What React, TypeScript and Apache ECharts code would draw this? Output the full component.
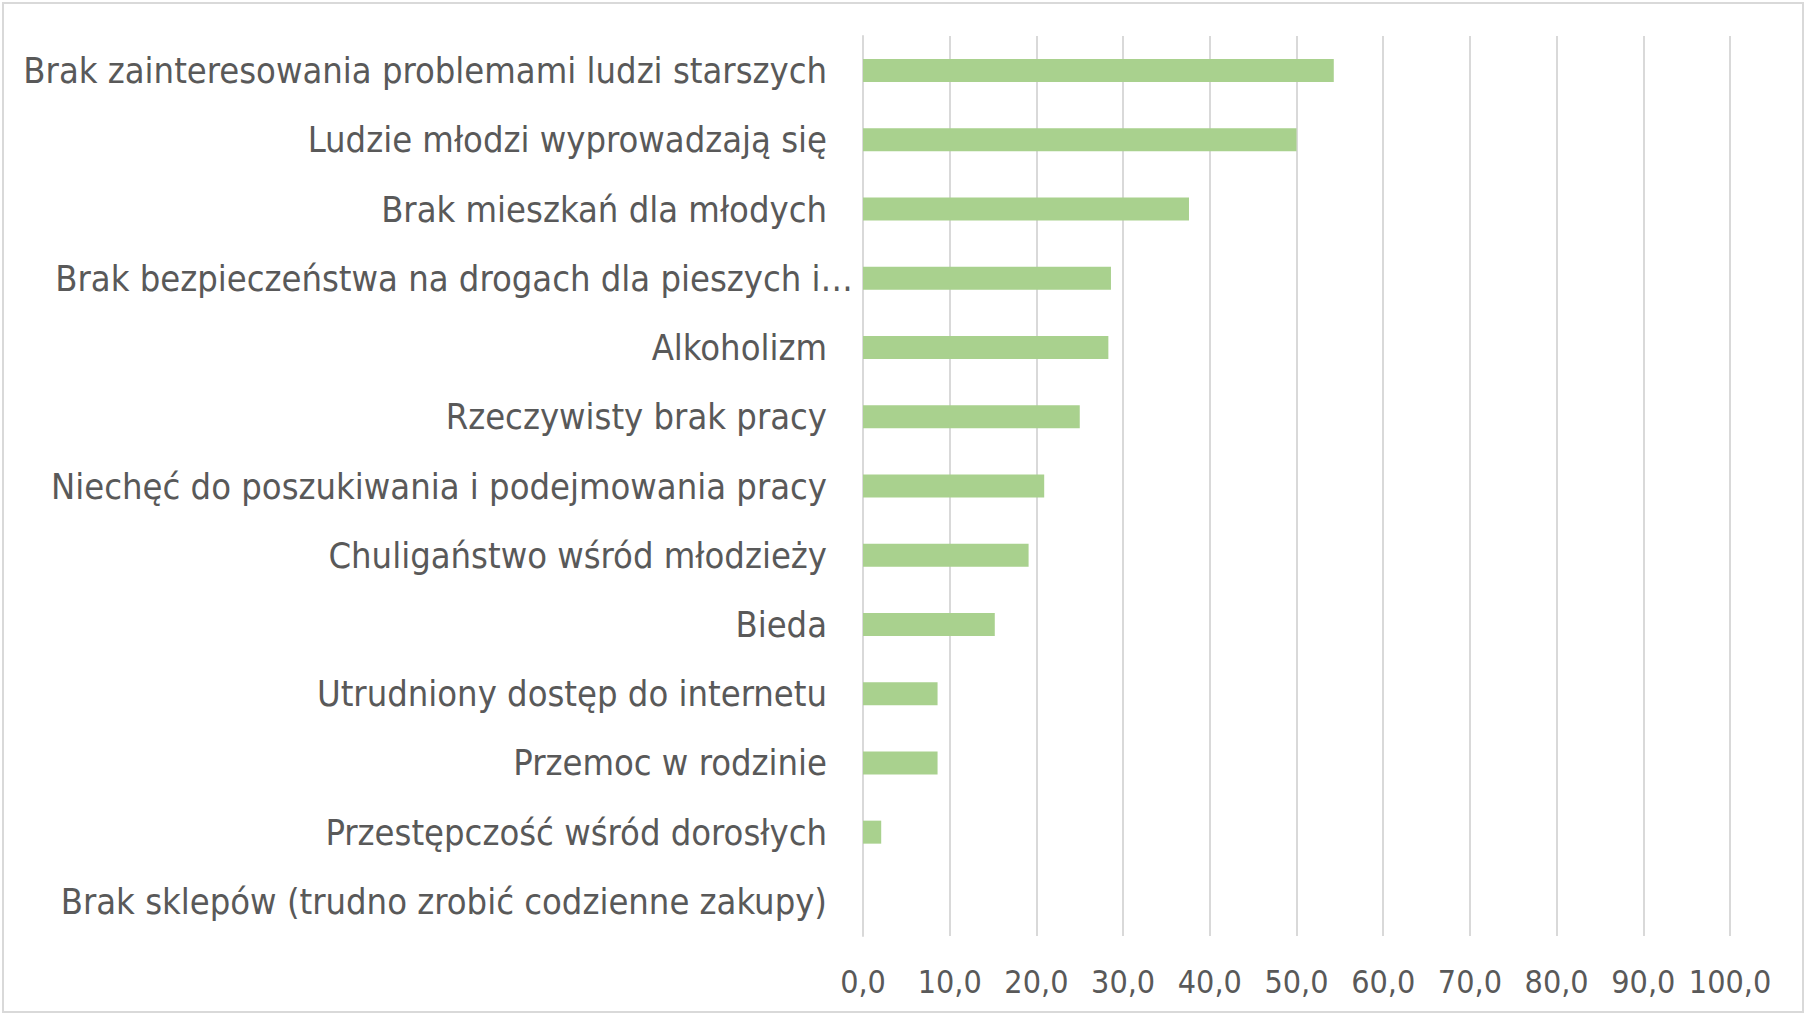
import React, { useEffect, useRef } from "react";
import * as echarts from "echarts";

const categories = [
  "Brak zainteresowania problemami ludzi starszych",
  "Ludzie młodzi wyprowadzają się",
  "Brak mieszkań dla młodych",
  "Brak bezpieczeństwa na drogach dla pieszych i…",
  "Alkoholizm",
  "Rzeczywisty brak pracy",
  "Niechęć do poszukiwania i podejmowania pracy",
  "Chuligaństwo wśród młodzieży",
  "Bieda",
  "Utrudniony dostęp do internetu",
  "Przemoc w rodzinie",
  "Przestępczość wśród dorosłych",
  "Brak sklepów (trudno zrobić codzienne zakupy)",
];
const values = [54.3, 50.0, 37.6, 28.6, 28.3, 25.0, 20.9, 19.1, 15.2, 8.6, 8.6, 2.1, 0];
const truncatedIndex = 3;

const FONT = "'Liberation Sans Narrow', 'DejaVu Sans Condensed', sans-serif";

export default function App() {
  const ref = useRef<HTMLDivElement>(null);
  useEffect(() => {
    document.body.style.margin = "0";
    const chart = echarts.init(ref.current!, null, { renderer: "svg" });
    chart.setOption({
      animation: false,
      backgroundColor: "#ffffff",
      graphic: [
        {
          type: "rect",
          shape: { x: 3, y: 3, width: 1800, height: 1009 },
          style: { fill: "none", stroke: "#d9d9d9", lineWidth: 2 },
        },
      ],
      grid: { left: 863, right: 76, top: 36, bottom: 80, containLabel: false },
      xAxis: {
        type: "value",
        min: 0,
        max: 100,
        interval: 10,
        axisLine: { show: false },
        axisTick: { show: false },
        splitLine: { show: true, lineStyle: { color: "#d9d9d9", width: 2 } },
        axisLabel: {
          margin: 30,
          color: "#595959",
          fontSize: 32,
          fontFamily: FONT,
          formatter: (v: number) => v.toFixed(1).replace(".", ","),
        },
      },
      yAxis: {
        type: "category",
        data: categories,
        inverse: true,
        axisLine: { show: true, lineStyle: { color: "#d9d9d9", width: 2 } },
        axisTick: { show: false },
        axisLabel: {
          margin: 10,
          color: "#595959",
          fontSize: 36,
          fontFamily: FONT,
          formatter: (v: string, i: number) =>
            i === truncatedIndex ? `{b|${v}}` : `{a|${v}}`,
          rich: {
            a: { padding: [0, 26, 0, 0], color: "#595959", fontSize: 36, fontFamily: FONT },
            b: { padding: [0, 0, 0, 0], color: "#595959", fontSize: 36, fontFamily: FONT },
          },
        },
      },
      series: [
        {
          type: "bar",
          data: values,
          barWidth: 23,
          itemStyle: { color: "#a9d18e" },
        },
      ],
    });
    return () => chart.dispose();
  }, []);
  return (
    <div
      ref={ref}
      style={{ position: "absolute", left: 0, top: 0, width: 1806, height: 1016 }}
    />
  );
}
